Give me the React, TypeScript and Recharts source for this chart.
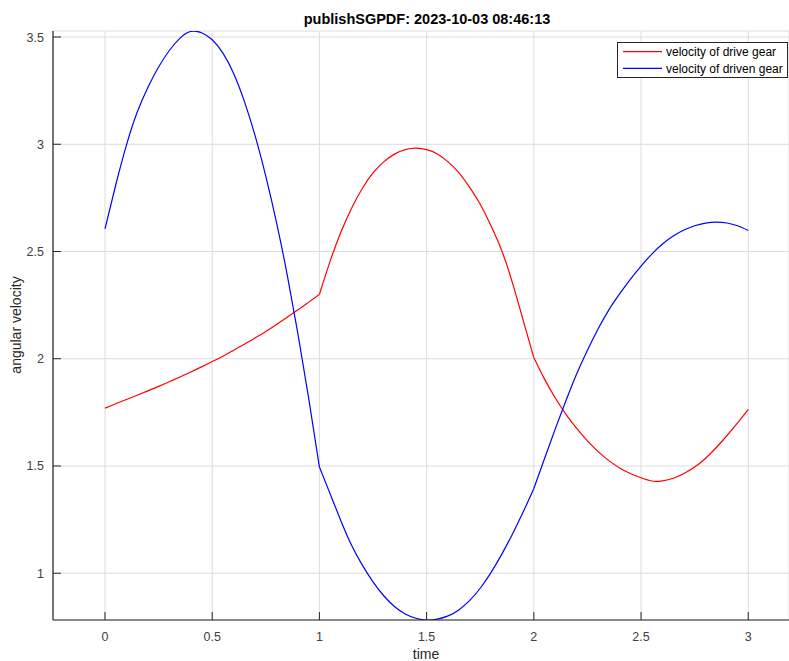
import React from "react";
import { LineChart, Line, XAxis, YAxis, CartesianGrid } from "recharts";

// sample times (s)
const time = [
  0, 0.05, 0.1, 0.15, 0.2, 0.25, 0.3, 0.35, 0.4, 0.45, 0.5, 0.55, 0.6, 0.65, 0.7, 0.75, 0.8, 0.85, 0.9, 0.95, 1,
  1.05, 1.1, 1.15, 1.2, 1.25, 1.3, 1.35, 1.4, 1.45, 1.5, 1.55, 1.6, 1.65, 1.7, 1.75, 1.8, 1.85, 1.9, 1.95, 2,
  2.05, 2.1, 2.15, 2.2, 2.25, 2.3, 2.35, 2.4, 2.45, 2.5, 2.55, 2.6, 2.65, 2.7, 2.75, 2.8, 2.85, 2.9, 2.95, 3,
];

const driveGear = [
  1.77, 1.79, 1.81, 1.83, 1.85, 1.871, 1.893, 1.915, 1.938, 1.962, 1.987, 2.012, 2.04, 2.068, 2.097, 2.127, 2.16, 2.194, 2.228, 2.264, 2.3,
  2.455, 2.59, 2.702, 2.794, 2.866, 2.918, 2.954, 2.975, 2.982, 2.975, 2.955, 2.918, 2.868, 2.8, 2.72, 2.62, 2.505, 2.355, 2.18, 2.005,
  1.905, 1.817, 1.741, 1.675, 1.617, 1.567, 1.525, 1.491, 1.465, 1.445, 1.43, 1.431, 1.443, 1.465, 1.495, 1.535, 1.585, 1.641, 1.701, 1.764,
];

const drivenGear = [
  2.605, 2.81, 2.996, 3.149, 3.265, 3.36, 3.437, 3.495, 3.526, 3.52, 3.487, 3.425, 3.33, 3.2, 3.04, 2.85, 2.635, 2.39, 2.115, 1.815, 1.495,
  1.37, 1.245, 1.13, 1.038, 0.96, 0.895, 0.845, 0.81, 0.79, 0.782, 0.786, 0.801, 0.829, 0.872, 0.93, 1.003, 1.088, 1.182, 1.285, 1.395,
  1.535, 1.673, 1.805, 1.93, 2.04, 2.14, 2.228, 2.302, 2.37, 2.432, 2.488, 2.535, 2.572, 2.6, 2.62, 2.632, 2.637, 2.633, 2.62, 2.598,
];

// the motion is piecewise: breaks at t = 1 and t = 2
const pieces = [
  [0, 1],
  [1, 2],
  [2, 3],
];

const xTicks = [0, 0.5, 1, 1.5, 2, 2.5, 3];
const yTicks = [1, 1.5, 2, 2.5, 3, 3.5];

const seriesNames = ["velocity of drive gear", "velocity of driven gear"];
const seriesKeys = ["drive", "driven"];
const seriesColors = ["#ff0000", "#0000ff"];

const title = "publishSGPDF: 2023-10-03 08:46:13";

const FONT = '"Liberation Sans", Arial, Helvetica, sans-serif';
const AXIS = "#262626";
const TICK_TEXT = "#404040";

const data = time.map((t, i) => ({ t, drive: driveGear[i], driven: drivenGear[i] }));

// octave style: tick marks point into the plot
function XTick(props: any) {
  const { x, y, payload } = props;
  return (
    <g>
      <line x1={x} x2={x} y1={y} y2={y - 8} stroke={AXIS} strokeWidth={1} />
      <text x={x} y={y + 20.5} textAnchor="middle" fontSize={12.5} fill={TICK_TEXT} fontFamily={FONT}>
        {payload.value}
      </text>
    </g>
  );
}

function YTick(props: any) {
  const { x, y, payload } = props;
  return (
    <g>
      <line x1={x} x2={x + 8} y1={y} y2={y} stroke={AXIS} strokeWidth={1} />
      <text x={x - 9} y={y + 4.5} textAnchor="end" fontSize={12.5} fill={TICK_TEXT} fontFamily={FONT}>
        {payload.value}
      </text>
    </g>
  );
}

export default function App() {
  return (
    <div style={{ position: "absolute", left: 0, top: 0, width: 789, height: 661, background: "#fff" }}>
      <LineChart width={789} height={661} data={data} margin={{ top: 31, right: 0, bottom: 0, left: 0 }}>
        <CartesianGrid stroke="#dcdcdc" strokeWidth={1} />
        <XAxis
          dataKey="t"
          type="number"
          domain={[-0.2425, 3.19]}
          ticks={xTicks}
          allowDataOverflow
          height={41}
          tickSize={0}
          tickMargin={0}
          tickLine={false}
          tick={<XTick />}
          axisLine={{ stroke: AXIS, strokeWidth: 1.2 }}
        />
        <YAxis
          type="number"
          domain={[0.782, 3.528]}
          ticks={yTicks}
          allowDataOverflow
          width={53}
          tickSize={0}
          tickMargin={0}
          tickLine={false}
          tick={<YTick />}
          axisLine={{ stroke: AXIS, strokeWidth: 1.2 }}
        />
        {seriesKeys.map((k, i) =>
          pieces.map(([a, b]) => (
            <Line
              key={`${k}-${a}`}
              dataKey={(d: any) => (d.t >= a && d.t <= b ? d[k] : null)}
              name={seriesNames[i]}
              type="natural"
              stroke={seriesColors[i]}
              strokeWidth={1.2}
              dot={false}
              activeDot={false}
              isAnimationActive={false}
            />
          ))
        )}
      </LineChart>
      <svg
        width={789}
        height={661}
        style={{ position: "absolute", left: 0, top: 0, pointerEvents: "none" }}
        fontFamily={FONT}
      >
        <text x={427} y={24} textAnchor="middle" fontSize={14.5} fontWeight="bold" fill="#000">
          {title}
        </text>
        <text x={426} y={659} textAnchor="middle" fontSize={14} fill={AXIS}>
          time
        </text>
        <text x={21} y={325} textAnchor="middle" fontSize={14} fill={AXIS} transform="rotate(-90, 21, 325)">
          angular velocity
        </text>
        <g>
          <rect x={617.5} y={42.5} width={170} height={35} fill="#fff" stroke={AXIS} strokeWidth={1} />
          {seriesNames.map((n, i) => (
            <g key={n}>
              <line x1={623} x2={662} y1={51.7 + i * 16.6} y2={51.7 + i * 16.6} stroke={seriesColors[i]} strokeWidth={1.2} />
              <text x={666} y={56 + i * 16.6} fontSize={12} fill="#000">
                {n}
              </text>
            </g>
          ))}
        </g>
      </svg>
    </div>
  );
}
